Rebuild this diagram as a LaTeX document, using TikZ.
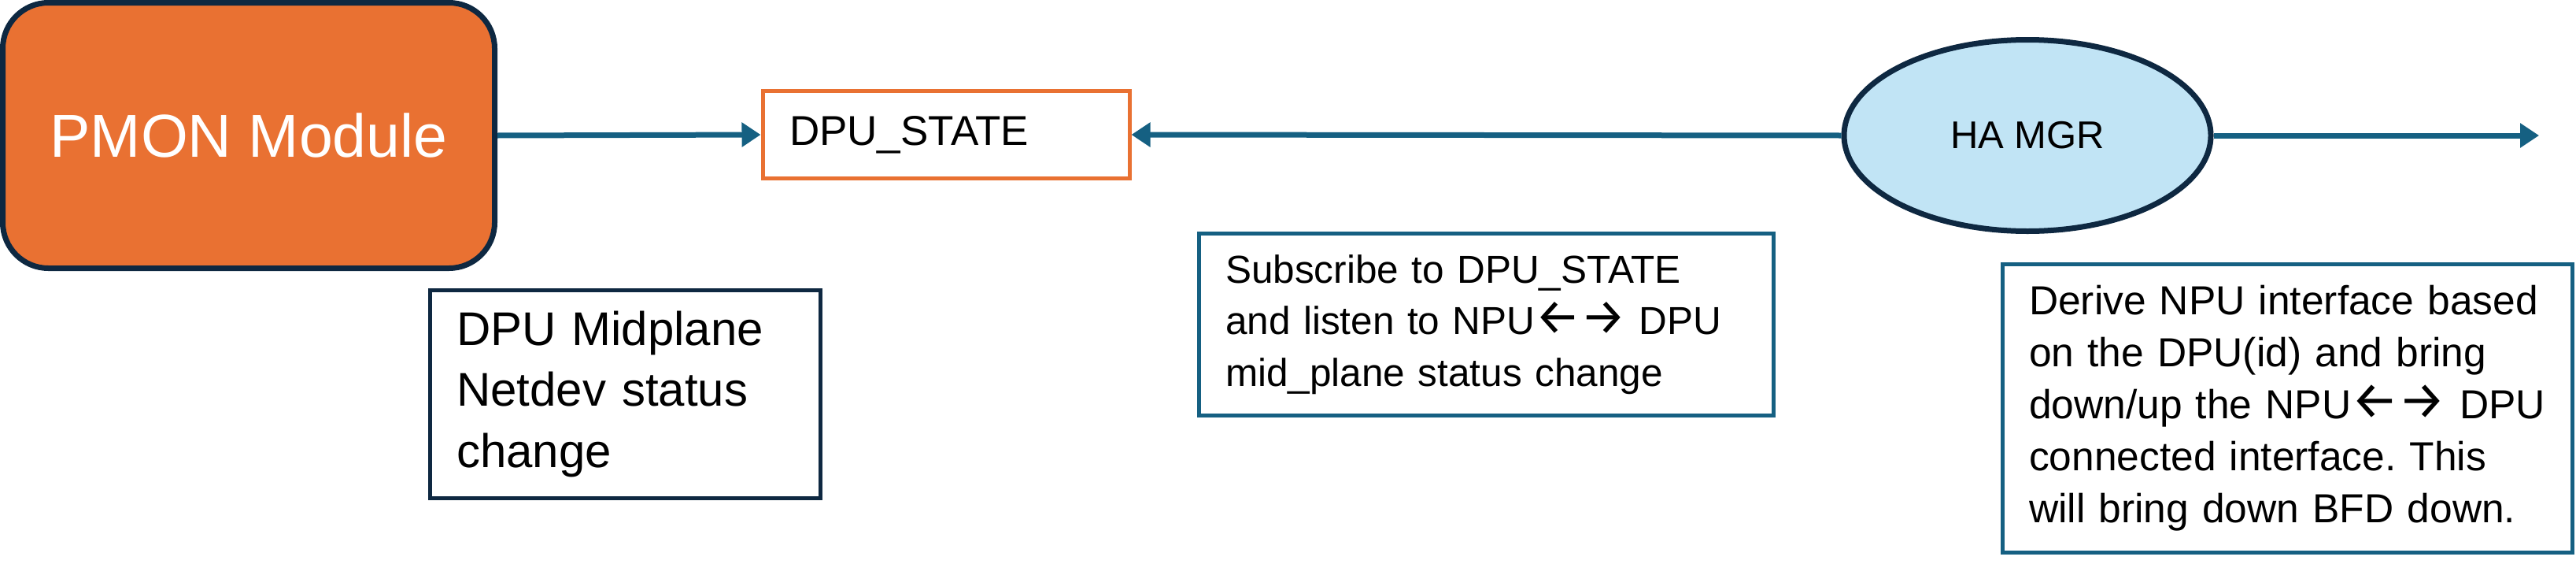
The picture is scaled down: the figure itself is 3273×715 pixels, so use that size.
\documentclass[tikz,border=0pt]{standalone}
\usepackage{fontspec}
\setmainfont{Liberation Sans}
\newfontfamily\arrowfont{Fira Sans}[Scale=1.3]
\usetikzlibrary{arrows.meta,shapes.geometric}
\definecolor{orng}{HTML}{E97132}
\definecolor{dark}{HTML}{0E2841}
\definecolor{conn}{HTML}{156082}
\definecolor{lblue}{HTML}{C1E4F5}
\newcommand{\lrarr}{{\arrowfont ←→}}
\tikzset{
  pmon/.style={draw=dark, line width=7pt, fill=orng, rounded corners=58pt, text=white, font=\fontsize{77}{90}\selectfont},
  statebox/.style={draw=orng, line width=5pt, fill=white, align=left, inner xsep=34pt, font=\fontsize{53}{64}\selectfont},
  darknote/.style={draw=dark, line width=5pt, fill=white, align=left, inner xsep=34pt, font=\fontsize{60}{77.5}\selectfont},
  bluenote/.style={draw=conn, line width=5pt, fill=white, align=left, inner xsep=34pt},
  mgr/.style={ellipse, draw=dark, line width=7pt, fill=lblue, inner sep=0pt, font=\fontsize{49}{58}\selectfont},
  flow/.style={draw=conn, line width=7pt, -{Triangle[length=24pt,width=30pt]}}
}
\begin{document}
\frenchspacing
\begin{tikzpicture}[x=1pt,y=-1pt]
\path[use as bounding box] (0,0) rectangle (3273,715);
\node[pmon, minimum width=625pt, minimum height=337pt] (pmon) at (316,172) {PMON Module};
\node[statebox, text width=398pt, minimum height=111pt] (state) at (1202,171) {DPU\_STATE};
\node[mgr, minimum width=466pt, minimum height=243pt] (ha) at (2576,172) {HA MGR};
\node[darknote, text width=428pt, minimum height=264pt] (mid) at (794,500) {DPU Midplane\\Netdev status\\change};
\node[bluenote, text width=662pt, minimum height=231pt, font=\fontsize{49.5}{65.5}\selectfont] (sub) at (1888,412) {Subscribe to DPU\_STATE\\and listen to NPU\lrarr\ DPU\\mid\_plane status change};
\node[bluenote, text width=656pt, minimum height=366pt, font=\fontsize{51.5}{66}\selectfont] (der) at (2906,518) {Derive NPU interface based\\on the DPU(id) and bring\\down/up the NPU\lrarr\ DPU\\connected interface. This\\will bring down BFD down.};
\coordinate (out) at (3226,172);
\draw[flow] (pmon.east) -- (state.west);
\draw[flow] (ha.west) -- (state.east);
\draw[flow] (ha.east) -- (out);
\end{tikzpicture}
\end{document}
